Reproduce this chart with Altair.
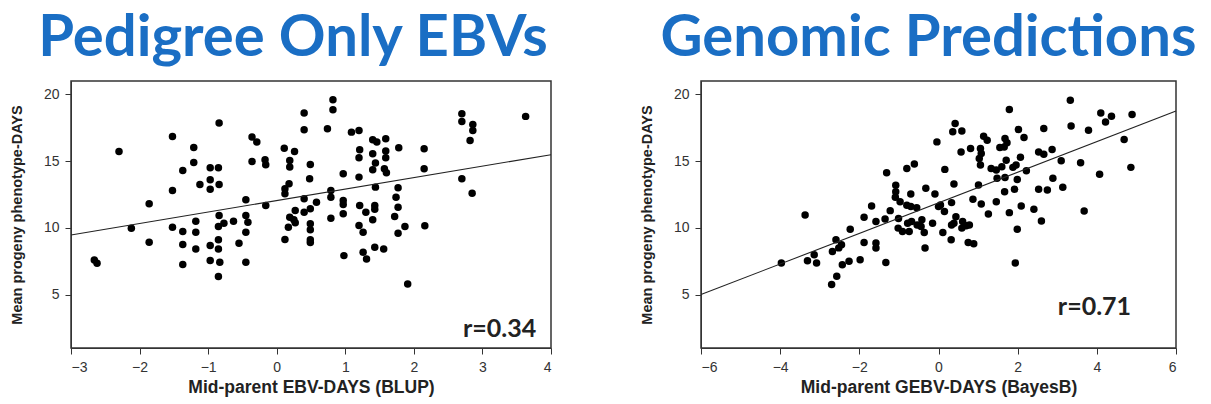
import altair as alt
import pandas as pd

# ---- Left panel: pedigree-only EBVs (x = mid-parent EBV, y = mean progeny phenotype)
ped_x = [-2.66, -2.62, -2.30, -2.12, -1.86, -1.86, -1.52, -1.52, -1.52, -1.37,
         -1.37, -1.37, -1.37, -1.21, -1.21, -1.18, -1.18, -1.18, -1.12, -0.97,
         -0.85, -0.97, -0.97, -0.84, -0.84, -0.97, -0.85, -0.85, -0.85, -0.84,
         -0.77, -0.63, -0.55, -0.45, -0.45, -0.42, -0.45, -0.36, -0.29, -0.36,
         -0.17, -0.16, -0.16, -0.97, -0.83, -0.85, -0.45, 0.11, 0.26, 0.19,
         0.19, 0.18, 0.12, 0.12, 0.27, 0.19, 0.27, 0.17, 0.12, 0.25,
         0.82, 0.82, 0.40, 0.40, 0.74, 1.09, 1.20, 0.49, 0.48, 0.97,
         1.20, 1.40, 1.46, 1.59, 1.21, 1.20, 1.40, 1.59, 1.59, 1.78,
         1.44, 1.40, 1.57, 1.60, 2.15, 2.15, 2.70, 2.70, 2.86, 2.86,
         2.82, 3.63, 2.70, 2.85, 1.44, 1.77, 1.74, 1.77, 1.72, 1.87,
         1.77, 2.16, 0.79, 0.79, 0.79, 0.58, 0.40, 0.49, 0.40, 0.49,
         0.49, 0.49, 0.49, 0.97, 0.97, 0.97, 1.21, 1.30, 1.43, 1.43,
         1.40, 1.20, 1.26, 1.43, 1.56, 0.98, 1.26, 1.31, 1.91]
ped_y = [7.60, 7.35, 15.72, 9.97, 11.80, 8.92, 16.85, 12.80, 10.05, 14.30,
         9.72, 8.75, 7.25, 16.02, 14.90, 10.50, 9.67, 8.42, 13.25, 14.50,
         14.50, 13.60, 12.90, 13.25, 17.85, 8.67, 8.42, 9.10, 10.10, 10.92,
         10.35, 10.50, 8.85, 12.10, 10.92, 10.42, 9.67, 16.80, 16.43, 14.97,
         15.10, 14.73, 11.68, 7.55, 7.42, 6.35, 7.42, 15.97, 15.72, 15.05,
         14.55, 13.30, 12.93, 12.55, 11.30, 10.80, 10.38, 10.05, 9.12, 10.60,
         19.60, 18.85, 18.60, 17.35, 17.43, 17.17, 17.30, 14.75, 13.68, 14.05,
         13.80, 16.60, 16.43, 16.67, 15.85, 15.25, 15.55, 15.75, 15.25, 16.00,
         14.85, 14.35, 14.43, 14.13, 15.93, 14.43, 18.55, 17.97, 17.75, 17.30,
         16.55, 18.35, 13.68, 12.60, 13.05, 13.00, 12.30, 11.55, 10.85, 10.10,
         9.60, 10.15, 12.80, 12.30, 10.72, 11.92, 12.18, 11.43, 11.17, 10.30,
         9.85, 9.10, 8.90, 12.05, 11.75, 11.05, 11.68, 11.17, 11.68, 11.40,
         10.60, 10.17, 9.67, 8.55, 8.42, 7.92, 8.17, 7.67, 5.80]
ped_line_x = [-3, 4]
ped_line_y = [9.47, 15.48]

# ---- Right panel: genomic predictions
gen_x = [-3.37, -1.31, -1.08, -1.08, -1.09, -1.69, -1.22, -1.35, -1.88, -1.58,
         -2.23, -1.01, -1.02, -2.59, -2.45, -2.68, -2.52, -1.88, -1.58, -1.58,
         -3.14, -3.97, -3.31, -3.08, -2.70, -2.57, -2.43, -2.26, -1.98, -1.33,
         -0.91, -0.74, -0.78, -0.68, -0.54, -0.42, -0.36, -0.34, -0.44, -0.97,
         -0.80, -0.70, -0.55, -0.80, -0.61, -0.04, 0.42, 0.36, 0.59, 0.16,
         0.57, 0.81, 1.06, 1.08, 1.03, 1.06, 1.14, 1.23, 1.79, 2.02,
         2.16, 1.68, 1.73, 1.55, 1.66, 2.07, 1.71, 1.33, 1.46, 1.60,
         1.88, 1.96, 2.22, 1.48, 1.68, 1.99, 1.01, 0.39, -0.32, -0.09,
         -0.70, 0.00, 0.05, 0.15, 0.33, 0.44, 0.39, 0.61, 0.70, 0.78,
         0.33, 0.59, 0.75, 0.89, -0.15, 0.11, 0.32, 0.87, 1.08, 1.26,
         1.46, 1.79, 1.99, 2.09, 1.92, 1.67, 2.41, 2.53, 2.75, 2.60,
         2.89, 3.14, 2.66, 2.53, 2.66, 2.87, 3.10, 3.33, 3.35, 3.79,
         3.59, 4.07, 3.68, 4.10, 4.22, 4.37, 4.89, 4.69, 4.86, 1.94]
gen_y = [10.97, 14.13, 13.20, 12.70, 12.29, 11.64, 11.29, 10.67, 10.80, 10.47,
         9.90, 10.70, 9.98, 9.10, 8.73, 8.23, 8.50, 8.90, 8.86, 8.49,
         7.99, 7.37, 7.54, 7.37, 5.75, 6.37, 7.24, 7.49, 7.61, 7.41,
         9.73, 9.73, 10.35, 10.47, 10.22, 10.60, 9.65, 8.49, 10.10, 11.96,
         11.70, 11.60, 11.50, 14.45, 14.78, 16.44, 17.81, 17.19, 17.26, 14.38,
         15.69, 15.95, 15.95, 15.57, 15.20, 14.70, 16.87, 16.57, 18.86, 17.37,
         16.77, 16.69, 16.37, 16.02, 16.05, 15.28, 15.07, 14.45, 14.33, 14.58,
         14.53, 14.70, 14.28, 13.71, 13.78, 13.63, 13.21, 13.28, 12.96, 12.54,
         12.54, 11.59, 11.72, 11.22, 11.89, 10.84, 10.35, 10.47, 10.15, 10.22,
         10.22, 9.98, 8.90, 8.81, 10.35, 9.65, 9.10, 12.14, 11.79, 11.04,
         11.96, 11.14, 9.90, 11.64, 12.89, 12.71, 11.39, 12.89, 12.84, 10.52,
         13.71, 13.04, 17.44, 15.69, 15.52, 15.87, 15.02, 19.55, 17.63, 17.31,
         14.87, 14.01, 11.27, 18.60, 17.93, 18.36, 18.49, 16.62, 14.53, 7.37]
gen_line_x = [-6, 6]
gen_line_y = [5.0, 18.75]

titles = ["Pedigree Only EBVs", "Genomic Predictions"]
title_dx = [-18, -10]
x_titles = ["Mid-parent EBV-DAYS (BLUP)", "Mid-parent GEBV-DAYS (BayesB)"]
y_title = "Mean progeny phenotype-DAYS"
r_labels = ["r=0.34", "r=0.71"]
r_pos_x = [3.25, 3.94]
r_pos_y = [2.45, 4.1]
x_domains = [[-3, 4], [-6, 6]]
x_ticks = [[-3, -2, -1, 0, 1, 2, 3, 4], [-6, -4, -2, 0, 2, 4, 6]]
y_ticks = [5, 10, 15, 20]
y_domain = [1, 21]

BLUE = "#1a6ec4"
AXF = "Liberation Sans"


def panel(i, xs, ys, lx, ly, width):
    pts = pd.DataFrame({"x": xs, "y": ys})
    ln = pd.DataFrame({"x": lx, "y": ly})
    lab = pd.DataFrame({"x": [r_pos_x[i]], "y": [r_pos_y[i]], "t": [r_labels[i]]})
    xs_ = alt.Scale(domain=x_domains[i], nice=False, zero=False)
    ys_ = alt.Scale(domain=y_domain, nice=False, zero=False)
    xax = alt.Axis(values=x_ticks[i], title=x_titles[i], grid=False, format="d")
    yax = alt.Axis(values=y_ticks, title=y_title, grid=False, format="d")
    p = alt.Chart(pts).mark_circle(size=56, color="black", opacity=1).encode(
        x=alt.X("x:Q", scale=xs_, axis=xax),
        y=alt.Y("y:Q", scale=ys_, axis=yax),
    )
    l = alt.Chart(ln).mark_line(color="#222", strokeWidth=1.1).encode(
        x=alt.X("x:Q", scale=xs_), y=alt.Y("y:Q", scale=ys_)
    )
    t = alt.Chart(lab).mark_text(font="Lato", fontWeight="bold", fontSize=25,
                                 color="#222").encode(
        x=alt.X("x:Q", scale=xs_), y=alt.Y("y:Q", scale=ys_), text="t:N"
    )
    return alt.layer(p, l, t).properties(
        width=width, height=267,
        title=alt.TitleParams(titles[i], font="Lato", fontSize=58, fontWeight="bold",
                              color=BLUE, anchor="middle", offset=13, dx=title_dx[i]),
    )


left = panel(0, ped_x, ped_y, ped_line_x, ped_line_y, 480)
right = panel(1, gen_x, gen_y, gen_line_x, gen_line_y, 475)

chart = alt.hconcat(left, right, spacing=84).properties(
    padding={"left": 8, "top": 9, "right": 5, "bottom": 5},
    background="white",
).configure_view(
    stroke="#333", strokeWidth=1.5
).configure_axis(
    labelFont=AXF, labelFontSize=14, labelColor="#333",
    titleFont=AXF, titleFontSize=17.5, titleFontWeight="bold", titleColor="#222",
    domainColor="#333", tickColor="#333", tickSize=6, labelPadding=6,
).configure_axisY(
    titleFontSize=14.5, titlePadding=19
).configure_axisX(
    titlePadding=4
)

chart.save("out.html", embed_options={"renderer": "svg", "actions": False})
